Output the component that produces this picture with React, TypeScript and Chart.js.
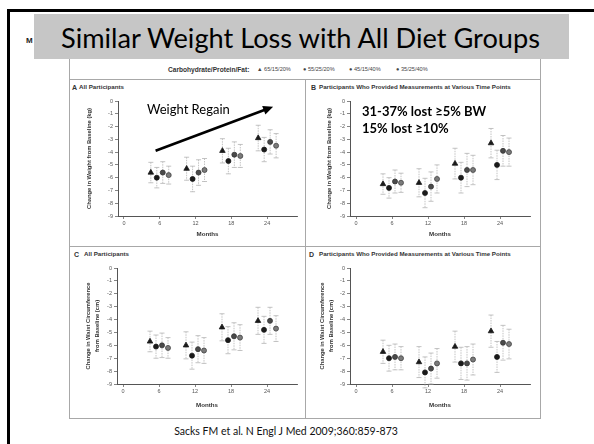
import React, { useEffect, useRef } from "react";
import { Chart, registerables } from "chart.js";

Chart.register(...registerables);

// ---------- data ----------
const MONTHS = [6, 12, 18, 24];
const X_TICKS = [0, 6, 12, 18, 24];
const DIET_LABELS = ["65/15/20%", "55/25/20%", "45/15/40%", "35/25/40%"];
const DIET_OFFSETS = [-1.5, -0.5, 0.5, 1.5]; // horizontal dodge (months)

// A: weight, all participants (kg)
const wtAll65 = [-5.6, -5.3, -3.9, -2.9];
const wtAll55 = [-6.0, -6.1, -4.7, -3.8];
const wtAll45 = [-5.6, -5.6, -4.2, -3.2];
const wtAll35 = [-5.8, -5.4, -4.3, -3.5];
const wtAllErr65 = [0.8, 0.9, 0.95, 1.0];
const wtAllErr55 = [0.8, 1.0, 1.0, 0.95];
const wtAllErr45 = [0.85, 1.0, 1.0, 0.95];
const wtAllErr35 = [0.7, 0.9, 0.9, 0.95];

// B: weight, completers (kg)
const wtComp65 = [-6.5, -6.4, -4.9, -3.3];
const wtComp55 = [-6.8, -7.2, -6.0, -5.0];
const wtComp45 = [-6.3, -6.7, -5.4, -3.9];
const wtComp35 = [-6.4, -6.1, -5.4, -4.0];
const wtCompErr65 = [0.8, 1.1, 1.2, 1.15];
const wtCompErr55 = [0.8, 1.15, 1.2, 1.15];
const wtCompErr45 = [0.9, 1.15, 1.3, 1.2];
const wtCompErr35 = [0.75, 1.1, 1.15, 1.1];

// C: waist, all participants (cm)
const wcAll65 = [-5.7, -6.0, -4.6, -4.1];
const wcAll55 = [-6.1, -6.8, -5.6, -4.8];
const wcAll45 = [-6.0, -6.3, -5.3, -4.1];
const wcAll35 = [-6.2, -6.4, -5.4, -4.7];
const wcAllErr65 = [0.8, 1.05, 1.05, 1.05];
const wcAllErr55 = [0.9, 1.05, 1.05, 1.05];
const wcAllErr45 = [0.95, 1.05, 1.05, 1.05];
const wcAllErr35 = [0.8, 1.0, 1.0, 1.0];

// D: waist, completers (cm)
const wcComp65 = [-6.5, -7.3, -6.1, -4.9];
const wcComp55 = [-7.0, -8.1, -7.4, -6.9];
const wcComp45 = [-6.9, -7.8, -7.4, -5.8];
const wcComp35 = [-7.0, -7.4, -7.1, -5.9];
const wcCompErr65 = [0.9, 1.2, 1.2, 1.25];
const wcCompErr55 = [1.0, 1.2, 1.25, 1.2];
const wcCompErr45 = [1.0, 1.2, 1.3, 1.35];
const wcCompErr35 = [0.9, 1.15, 1.2, 1.15];

// arrow annotation in panel A (data coordinates)
const REGAIN_FROM = [5.3, -3.9];
const REGAIN_TO = [25, -0.45];

// ---------- styles ----------
const FIG_FONT = "'Liberation Sans', Arial, sans-serif";
const SLIDE_FONT = "Lato, 'Open Sans', sans-serif";
const SERIES_STYLE = [
  { pointStyle: "triangle", radius: 3.2, bg: "#1a1a1a", border: "#1a1a1a" },
  { pointStyle: "circle", radius: 2.5, bg: "#1a1a1a", border: "#1a1a1a" },
  { pointStyle: "circle", radius: 2.5, bg: "#4a4a4a", border: "#333" },
  { pointStyle: "circle", radius: 2.5, bg: "#7a7a7a", border: "#444" },
];

const errorBarPlugin = {
  id: "errorBars",
  beforeDatasetsDraw(chart: any) {
    const { ctx, scales } = chart;
    const x = scales.x;
    const y = scales.y;
    ctx.save();
    ctx.strokeStyle = "#b4b4b4";
    ctx.lineWidth = 0.8;
    chart.data.datasets.forEach((ds: any) => {
      ds.data.forEach((p: any) => {
        const px = x.getPixelForValue(p.x);
        const top = y.getPixelForValue(p.y + p.e);
        const bot = y.getPixelForValue(p.y - p.e);
        ctx.beginPath();
        ctx.setLineDash([1.5, 1]);
        ctx.moveTo(px, top);
        ctx.lineTo(px, bot);
        ctx.stroke();
        ctx.setLineDash([]);
        ctx.beginPath();
        ctx.moveTo(px - 2.5, top);
        ctx.lineTo(px + 2.5, top);
        ctx.moveTo(px - 2.5, bot);
        ctx.lineTo(px + 2.5, bot);
        ctx.stroke();
      });
    });
    ctx.restore();
  },
};

const arrowPlugin = {
  id: "regainArrow",
  afterDraw(chart: any, _args: any, opts: any) {
    if (!opts || !opts.from) return;
    const { ctx, scales } = chart;
    const x0 = scales.x.getPixelForValue(opts.from[0]);
    const y0 = scales.y.getPixelForValue(opts.from[1]);
    const x1 = scales.x.getPixelForValue(opts.to[0]);
    const y1 = scales.y.getPixelForValue(opts.to[1]);
    const ang = Math.atan2(y1 - y0, x1 - x0);
    const headL = 10;
    const headW = 4.5;
    ctx.save();
    ctx.strokeStyle = "#000";
    ctx.fillStyle = "#000";
    ctx.lineWidth = 2.6;
    ctx.beginPath();
    ctx.moveTo(x0, y0);
    ctx.lineTo(x1 - Math.cos(ang) * headL * 0.8, y1 - Math.sin(ang) * headL * 0.8);
    ctx.stroke();
    ctx.beginPath();
    ctx.moveTo(x1, y1);
    ctx.lineTo(
      x1 - Math.cos(ang) * headL - Math.sin(ang) * headW,
      y1 - Math.sin(ang) * headL + Math.cos(ang) * headW
    );
    ctx.lineTo(
      x1 - Math.cos(ang) * headL + Math.sin(ang) * headW,
      y1 - Math.sin(ang) * headL - Math.cos(ang) * headW
    );
    ctx.closePath();
    ctx.fill();
    ctx.restore();
  },
};

type PanelProps = {
  left: number;
  top: number;
  width: number;
  height: number;
  means: number[][];
  errs: number[][];
  yTitle: string | string[];
  yTitlePad: number;
  yAxisW: number;
  xAxisH: number;
  monthsPad: number;
  padTop: number;
  padRight: number;
  arrow?: { from: number[]; to: number[] };
};

function Panel(props: PanelProps) {
  const ref = useRef<HTMLCanvasElement | null>(null);
  useEffect(() => {
    if (!ref.current) return;
    const datasets = props.means.map((m, si) => ({
      label: DIET_LABELS[si],
      data: MONTHS.map((mo, i) => ({ x: mo + DIET_OFFSETS[si], y: m[i], e: props.errs[si][i] })),
      pointStyle: SERIES_STYLE[si].pointStyle,
      pointRadius: SERIES_STYLE[si].radius,
      pointBackgroundColor: SERIES_STYLE[si].bg,
      pointBorderColor: SERIES_STYLE[si].border,
      pointBorderWidth: 0.8,
      showLine: false,
    }));
    const tickFont = { family: FIG_FONT, size: 5.5 };
    const titleFont = { family: FIG_FONT, size: 5.8, weight: "bold" as const, lineHeight: 1.55 };
    const chart = new Chart(ref.current, {
      type: "scatter",
      data: { datasets } as any,
      plugins: [errorBarPlugin, arrowPlugin],
      options: {
        animation: false,
        responsive: false,
        maintainAspectRatio: false,
        layout: { padding: { top: props.padTop, right: props.padRight, left: 0, bottom: 0 } },
        plugins: {
          legend: { display: false },
          tooltip: { enabled: false },
          regainArrow: props.arrow || {},
        } as any,
        scales: {
          x: {
            type: "linear",
            min: -1,
            max: 29,
            afterBuildTicks: (s: any) => {
              s.ticks = X_TICKS.map((v) => ({ value: v }));
            },
            afterFit: (s: any) => {
              s.height = props.xAxisH;
            },
            grid: { display: true, drawOnChartArea: false, drawTicks: true, tickLength: 3, color: "#666", lineWidth: 0.8 },
            border: { display: true, color: "#555", width: 1 },
            ticks: { font: tickFont, color: "#555", padding: 1.5, maxRotation: 0, autoSkip: false },
            title: {
              display: true,
              text: "Months",
              font: { family: FIG_FONT, size: 6.2, weight: "bold", lineHeight: 1.4 },
              color: "#333",
              padding: { top: 0, bottom: props.monthsPad },
            },
          },
          y: {
            type: "linear",
            min: -9,
            max: 0,
            afterFit: (s: any) => {
              s.width = props.yAxisW;
            },
            grid: { display: true, drawOnChartArea: false, drawTicks: true, tickLength: 3, color: "#666", lineWidth: 0.8 },
            border: { display: true, color: "#555", width: 1 },
            ticks: {
              stepSize: 1,
              font: tickFont,
              color: "#555",
              padding: 2,
              callback: (v: any) => String(v),
            },
            title: {
              display: true,
              text: props.yTitle as any,
              font: titleFont,
              color: "#333",
              padding: { top: props.yTitlePad, bottom: 0 },
            },
          },
        },
      } as any,
    });
    return () => chart.destroy();
  }, []);
  return (
    <canvas
      ref={ref}
      width={props.width}
      height={props.height}
      style={{ position: "absolute", left: props.left, top: props.top, width: props.width, height: props.height }}
    />
  );
}

function Txt(p: { x: number; y: number; text: string; size: number; bold?: boolean; font?: string; color?: string; anchor?: "start" | "middle" }) {
  const lh = Math.round(p.size * 1.3);
  return (
    <div
      style={{
        position: "absolute",
        left: p.anchor === "middle" ? p.x - 300 : p.x,
        width: p.anchor === "middle" ? 600 : undefined,
        textAlign: p.anchor === "middle" ? "center" : "left",
        top: p.y - lh / 2,
        lineHeight: lh + "px",
        fontSize: p.size,
        fontWeight: p.bold ? 700 : 400,
        fontFamily: p.font || FIG_FONT,
        color: p.color || "#333",
        whiteSpace: "nowrap",
      }}
    >
      {p.text}
    </div>
  );
}

export default function App() {
  const line = (l: number, t: number, w: number, h: number, c = "#a8a8a8") => (
    <div style={{ position: "absolute", left: l, top: t, width: w, height: h, background: c }} />
  );
  return (
    <div
      style={{
        position: "absolute",
        left: 0,
        top: 0,
        width: 594,
        height: 444,
        overflow: "hidden",
        background: "#fff",
      }}
    >
      {/* slide border */}
      {line(7, 9, 3, 440, "#000")}
      {line(7, 9, 590, 3, "#000")}
      <Txt x={26} y={41} text="M" size={8} bold font={FIG_FONT} color="#222" />

      {/* figure frame */}
      <div style={{ position: "absolute", left: 69, top: 55, width: 470, height: 362, border: "1px solid #a8a8a8" }} />
      {line(69, 79, 471, 1)}
      {line(69, 246, 471, 1)}
      {line(305, 79, 1, 339)}

      {/* legend */}
      <Txt x={168} y={69} text="Carbohydrate/Protein/Fat:" size={6.6} bold color="#333" />
      <Txt x={257} y={69} text={"\u25B2 " + DIET_LABELS[0]} size={5.6} color="#444" />
      <Txt x={303} y={69} text={"\u25CF " + DIET_LABELS[1]} size={5.6} color="#444" />
      <Txt x={349} y={69} text={"\u25CF " + DIET_LABELS[2]} size={5.6} color="#444" />
      <Txt x={396} y={69} text={"\u25CF " + DIET_LABELS[3]} size={5.6} color="#444" />

      {/* panel titles */}
      <Txt x={72} y={87} text="A" size={7} bold color="#333" />
      <Txt x={79} y={87} text="All Participants" size={6.2} bold color="#333" />
      <Txt x={311} y={87} text="B" size={7} bold color="#333" />
      <Txt x={319} y={87} text="Participants Who Provided Measurements at Various Time Points" size={6.2} bold color="#333" />
      <Txt x={74} y={254} text="C" size={7} bold color="#333" />
      <Txt x={84} y={254} text="All Participants" size={6.2} bold color="#333" />
      <Txt x={309} y={254} text="D" size={7} bold color="#333" />
      <Txt x={319} y={254} text="Participants Who Provided Measurements at Various Time Points" size={6.2} bold color="#333" />

      <Panel
        left={69}
        top={95}
        width={236}
        height={148}
        means={[wtAll65, wtAll55, wtAll45, wtAll35]}
        errs={[wtAllErr65, wtAllErr55, wtAllErr45, wtAllErr35]}
        yTitle="Change in Weight from Baseline (kg)"
        yTitlePad={15.5}
        yAxisW={49}
        xAxisH={27}
        monthsPad={4.5}
        padTop={6}
        padRight={8}
        arrow={{ from: REGAIN_FROM, to: REGAIN_TO }}
      />
      <Panel
        left={305}
        top={95}
        width={235}
        height={148}
        means={[wtComp65, wtComp55, wtComp45, wtComp35]}
        errs={[wtCompErr65, wtCompErr55, wtCompErr45, wtCompErr35]}
        yTitle="Change in Weight from Baseline (kg)"
        yTitlePad={19.5}
        yAxisW={45}
        xAxisH={27}
        monthsPad={4.5}
        padTop={6}
        padRight={10}
      />
      <Panel
        left={69}
        top={262}
        width={236}
        height={154}
        means={[wcAll65, wcAll55, wcAll45, wcAll35]}
        errs={[wcAllErr65, wcAllErr55, wcAllErr45, wcAllErr35]}
        yTitle={["Change in Waist Circumference", "from Baseline (cm)"]}
        yTitlePad={14.5}
        yAxisW={48}
        xAxisH={32}
        monthsPad={6.5}
        padTop={6}
        padRight={8}
      />
      <Panel
        left={305}
        top={262}
        width={235}
        height={154}
        means={[wcComp65, wcComp55, wcComp45, wcComp35]}
        errs={[wcCompErr65, wcCompErr55, wcCompErr45, wcCompErr35]}
        yTitle={["Change in Waist Circumference", "from Baseline (cm)"]}
        yTitlePad={12.5}
        yAxisW={45}
        xAxisH={32}
        monthsPad={6.5}
        padTop={6}
        padRight={10}
      />

      {/* annotations */}
      <Txt x={147} y={109} text="Weight Regain" size={13} font={SLIDE_FONT} color="#000" />
      <Txt x={362} y={111} text="31-37% lost ≥5% BW" size={13} bold font={SLIDE_FONT} color="#000" />
      <Txt x={362} y={128} text="15% lost ≥10%" size={13} bold font={SLIDE_FONT} color="#000" />

      {/* slide title */}
      <div
        style={{
          position: "absolute",
          left: 34,
          top: 14,
          width: 535,
          height: 45,
          background: "#c6c6c6",
        }}
      />
      <Txt x={61} y={37} text="Similar Weight Loss with All Diet Groups" size={27.2} font={SLIDE_FONT} color="#000" />

      <Txt x={286} y={431} text="Sacks FM et al. N Engl J Med 2009;360:859-873" size={10.5} font={SLIDE_FONT} color="#111" anchor="middle" />
    </div>
  );
}
